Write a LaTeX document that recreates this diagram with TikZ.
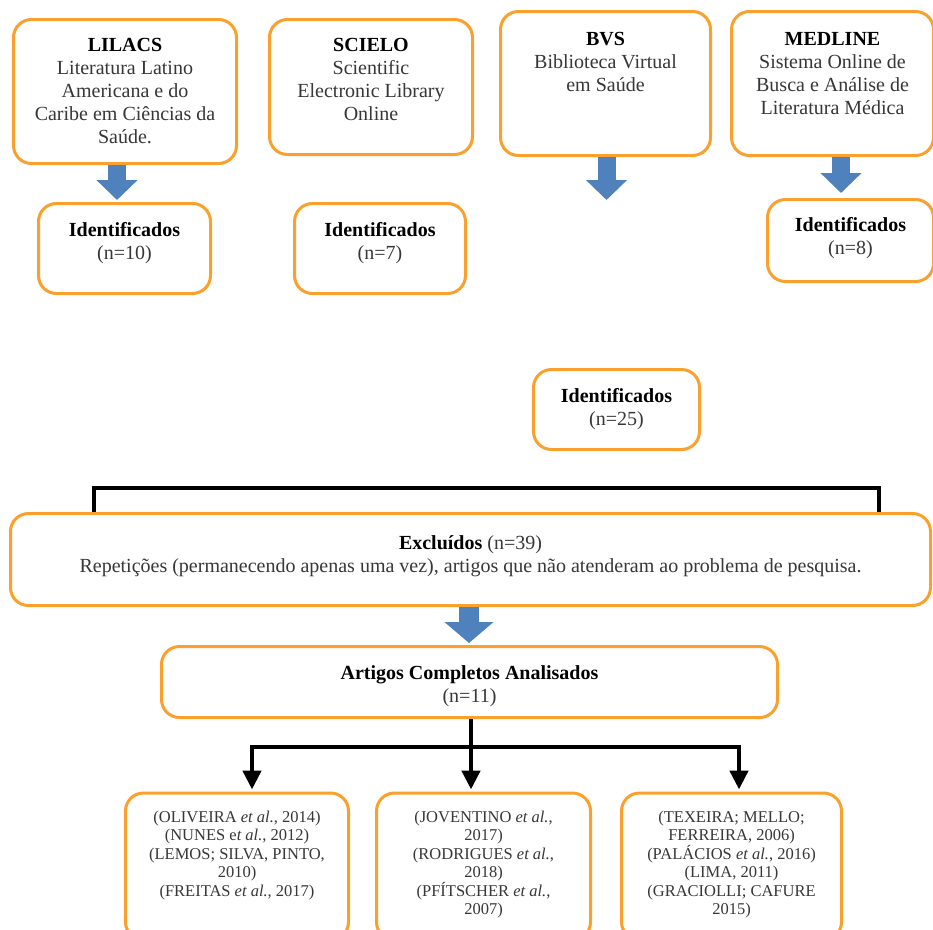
\documentclass[tikz,border=0pt]{standalone}
\usepackage{fontspec}
\setmainfont{Liberation Serif}
\usetikzlibrary{positioning,arrows.meta}

\definecolor{laranja}{RGB}{250,160,45}
\definecolor{azul}{RGB}{79,129,189}
\definecolor{cinza}{RGB}{55,55,55}
\newcommand{\destaque}[1]{\textbf{\color{black}#1}}

\begin{document}
\begin{tikzpicture}[x=1pt, y=-1pt,
    caixa/.style={rectangle, draw=laranja, line width=3pt, rounded corners=18pt, fill=white},
    rotulo/.style={align=center, inner sep=0pt, text=cinza, font=\fontsize{20}{23}\selectfont},
    refs/.style={align=center, inner sep=0pt, text=cinza, font=\fontsize{16.5}{18.5}\selectfont},
    seta/.style={draw=azul, line width=18pt, shorten >=2pt, -{Triangle[width=40pt,length=20pt]}},
    ramo/.style={draw=black, line width=4.5pt},
    ponta/.style={shorten >=2pt, -{Triangle[width=18pt,length=19pt]}}]
    \useasboundingbox (0,0) rectangle (933,929);

    % Bases de dados
    \node[caixa, minimum width=223pt, minimum height=144pt] (lilacs) at (125,91.5) {};
    \node[caixa, minimum width=203pt, minimum height=135pt] (scielo) at (371,87) {};
    \node[caixa, minimum width=210pt, minimum height=144pt] (bvs) at (605.5,83.5) {};
    \node[caixa, minimum width=202pt, minimum height=144pt] (medline) at (832.5,83.5) {};

    \node[rotulo, below=20pt] (tlilacs) at (lilacs.north) {\destaque{LILACS}\\Literatura Latino\\Americana e do\\Caribe em Ciências da\\Saúde.};
    \node[rotulo, below=20pt] (tscielo) at (scielo.north) {\destaque{SCIELO}\\Scientific\\Electronic Library\\Online};
    \node[rotulo, below=22pt] (tbvs) at (bvs.north) {\destaque{BVS}\\Biblioteca Virtual\\em Saúde};
    \node[rotulo, below=22pt] (tmedline) at (medline.north) {\destaque{MEDLINE}\\Sistema Online de\\Busca e Análise de\\Literatura Médica};

    % Identificados
    \node[caixa, minimum width=172pt, minimum height=90pt] (idlilacs) at (124.5,248.5) {};
    \node[caixa, minimum width=171pt, minimum height=90pt] (idscielo) at (380,248.5) {};
    \node[caixa, minimum width=166pt, minimum height=82pt] (idmedline) at (850.5,240.5) {};
    \node[caixa, minimum width=166pt, minimum height=80pt] (idtotal) at (616.5,409.5) {};

    \node[rotulo, below=20pt] (tidlilacs) at (idlilacs.north) {\destaque{Identificados}\\(n=10)};
    \node[rotulo, below=20pt] (tidscielo) at (idscielo.north) {\destaque{Identificados}\\(n=7)};
    \node[rotulo, below=19pt] (tidmedline) at (idmedline.north) {\destaque{Identificados}\\(n=8)};
    \node[rotulo, below=20pt] (tidtotal) at (idtotal.north) {\destaque{Identificados}\\(n=25)};

    % Excluidos e analisados
    \node[caixa, minimum width=920pt, minimum height=92pt] (excluidos) at (470.5,559.5) {};
    \node[caixa, minimum width=616pt, minimum height=71pt] (artigos) at (469.5,682) {};

    \node[rotulo, below=23pt] (texcluidos) at (excluidos.north) {\destaque{Excluídos} (n=39)\\Repetições (permanecendo apenas uma vez), artigos que não atenderam ao problema de pesquisa.};
    \node[rotulo, below=20pt] (tartigos) at (artigos.north) {\destaque{Artigos Completos Analisados}\\(n=11)};

    % Referencias
    \node[caixa, minimum width=223pt, minimum height=147pt] (ref1) at (237,866.5) {};
    \node[caixa, minimum width=214pt, minimum height=147pt] (ref2) at (483.5,866.5) {};
    \node[caixa, minimum width=220pt, minimum height=147pt] (ref3) at (731.5,866.5) {};

    \node[refs, below=19pt] (tref1) at (ref1.north) {(OLIVEIRA \textit{et al.}, 2014)\\(NUNES e\textit{t al.}, 2012)\\(LEMOS; SILVA, PINTO,\\2010)\\(FREITAS \textit{et al.}, 2017)};
    \node[refs, below=19pt] (tref2) at (ref2.north) {(JOVENTINO \textit{et al.},\\2017)\\(RODRIGUES \textit{et al.},\\2018)\\(PFÍTSCHER \textit{et al.},\\2007)};
    \node[refs, below=19pt] (tref3) at (ref3.north) {(TEXEIRA; MELLO;\\FERREIRA, 2006)\\(PALÁCIOS \textit{et al.}, 2016)\\(LIMA, 2011)\\(GRACIOLLI; CAFURE\\2015)};

    % Setas azuis
    \coordinate (fimbvs) at (606.5,202);
    \draw[seta] (lilacs.south -| 117,0) -- (idlilacs.north -| 117,0);
    \draw[seta] (bvs.south -| fimbvs) -- (fimbvs);
    \draw[seta, shorten >=5pt] (medline.south -| 841,0) -- (idmedline.north -| 841,0);
    \draw[seta, line width=20pt, -{Triangle[width=48pt,length=21pt]}] (excluidos.south -| 469,0) -- (artigos.north -| 469,0);

    % Chave sobre os excluidos
    \coordinate (chave) at (486,488);
    \draw[ramo] (excluidos.north -| 94,0) |- (chave) -| (excluidos.north -| 879,0);

    % Ramos para as referencias
    \coordinate (juncao) at (471,747);
    \draw[ramo, ponta] (artigos.south -| juncao) -- (ref2.north -| juncao);
    \draw[ramo, ponta] (juncao) -| (ref1.north -| 252,0);
    \draw[ramo, ponta] (juncao) -| (ref3.north -| 739,0);
\end{tikzpicture}
\end{document}
